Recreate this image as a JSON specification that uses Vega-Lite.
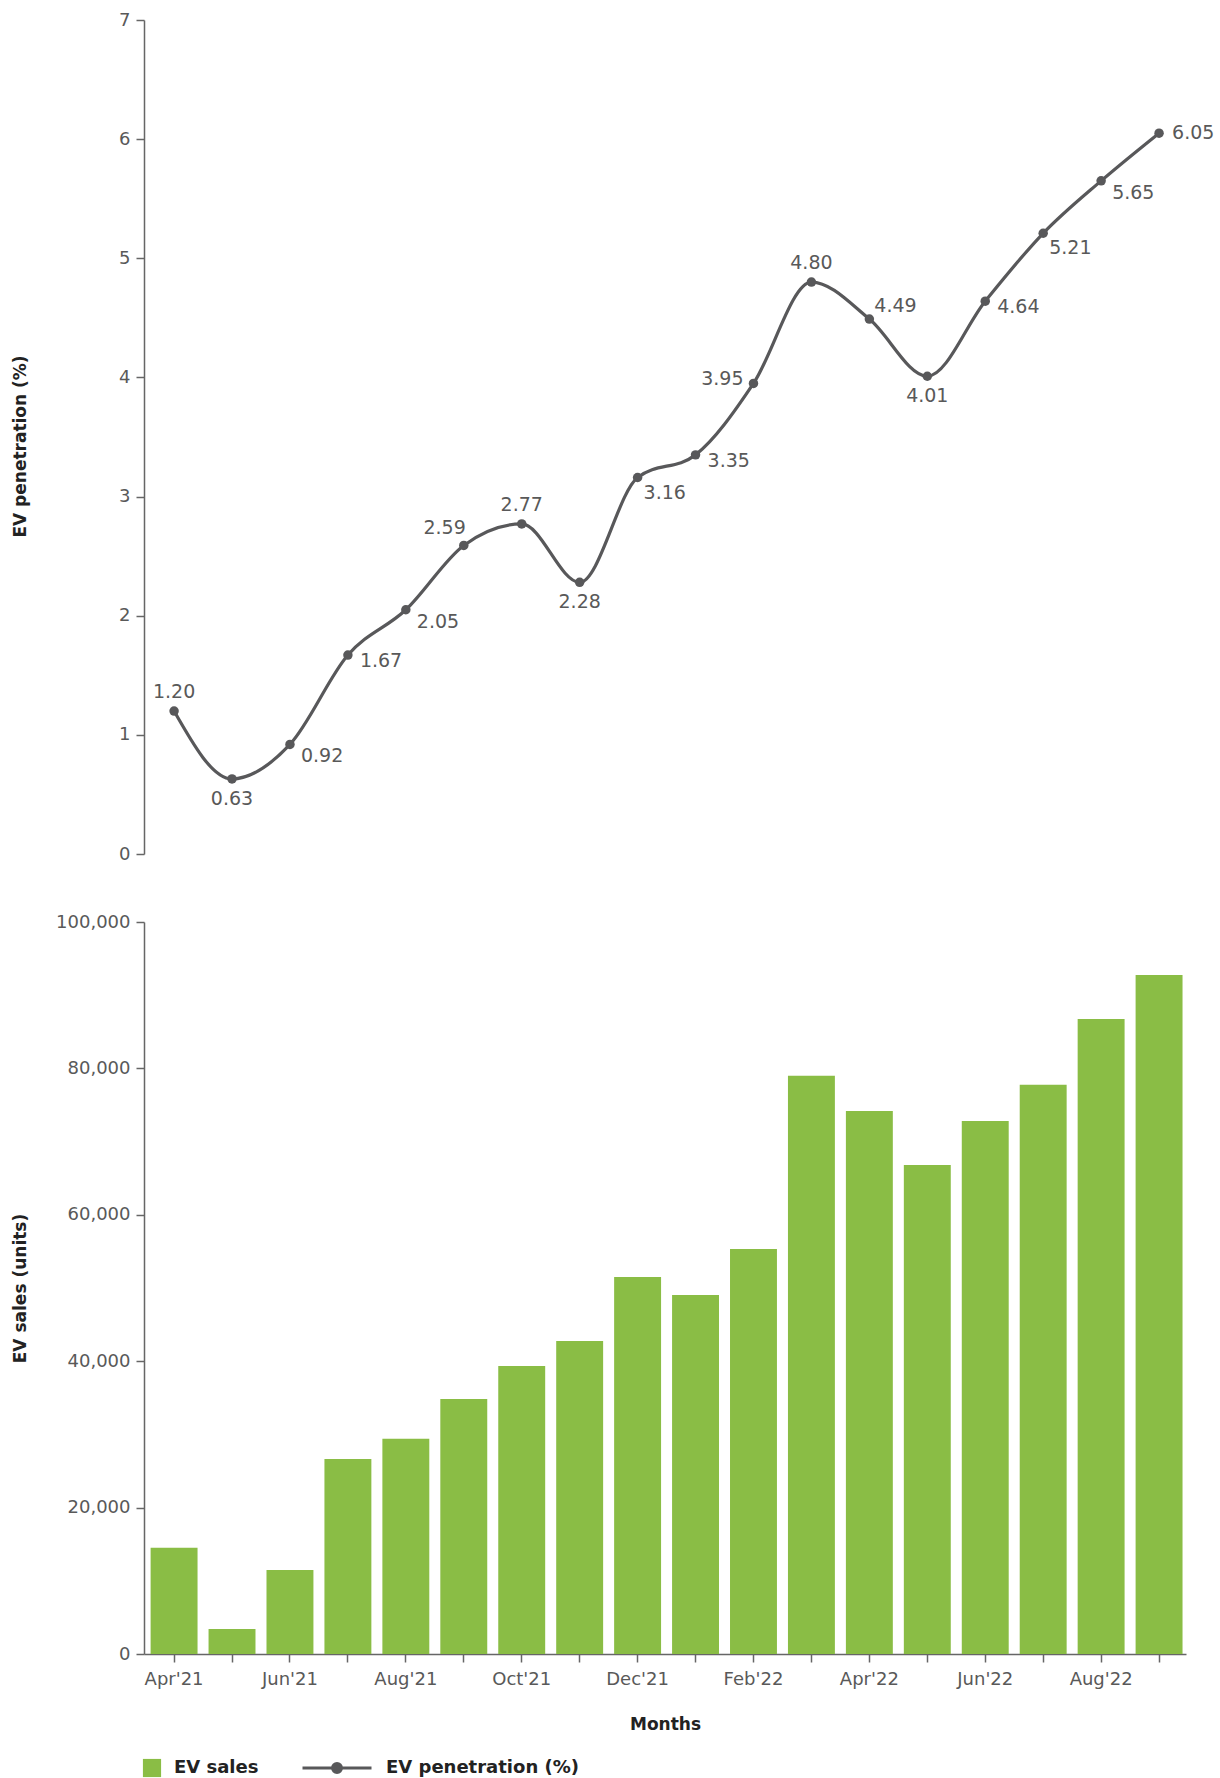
{
  "$schema": "https://vega.github.io/schema/vega-lite/v6.json",
  "padding": {"left": 11, "top": 11, "right": 0, "bottom": 0},
  "background": "white",
  "spacing": 50,
  "data": {"values": [
    {"month": "Apr'21", "sales": 14530, "pen": 1.20},
    {"month": "May'21", "sales": 3430, "pen": 0.63},
    {"month": "Jun'21", "sales": 11490, "pen": 0.92},
    {"month": "Jul'21", "sales": 26650, "pen": 1.67},
    {"month": "Aug'21", "sales": 29390, "pen": 2.05},
    {"month": "Sep'21", "sales": 34850, "pen": 2.59},
    {"month": "Oct'21", "sales": 39360, "pen": 2.77},
    {"month": "Nov'21", "sales": 42770, "pen": 2.28},
    {"month": "Dec'21", "sales": 51500, "pen": 3.16},
    {"month": "Jan'22", "sales": 49060, "pen": 3.35},
    {"month": "Feb'22", "sales": 55340, "pen": 3.95},
    {"month": "Mar'22", "sales": 78980, "pen": 4.80},
    {"month": "Apr'22", "sales": 74190, "pen": 4.49},
    {"month": "May'22", "sales": 66820, "pen": 4.01},
    {"month": "Jun'22", "sales": 72830, "pen": 4.64},
    {"month": "Jul'22", "sales": 77750, "pen": 5.21},
    {"month": "Aug'22", "sales": 86760, "pen": 5.65},
    {"month": "Sep'22", "sales": 92770, "pen": 6.05}
  ]},
  "vconcat": [
    {
      "width": 1042,
      "height": 834,
      "encoding": {
        "x": {"field": "month", "type": "ordinal", "sort": null, "scale": {"type": "band", "paddingInner": 0.19, "paddingOuter": 0.087, "align": 0.656}, "axis": null},
        "y": {"field": "pen", "type": "quantitative", "scale": {"domain": [0, 7]}, "axis": {"values": [0, 1, 2, 3, 4, 5, 6, 7], "title": "EV penetration (%)", "titleX": -115, "titleY": 426}}
      },
      "layer": [
        {"mark": {"type": "line", "interpolate": "monotone", "strokeWidth": 3.2},
         "encoding": {"stroke": {"datum": "EV penetration (%)", "type": "nominal", "scale": {"range": ["#58585a"]},
           "legend": {"orient": "none", "legendX": 157, "legendY": 1712, "title": null, "symbolType": "M-1,0H1M0.13,0A0.13,0.13 0 1 1 -0.13,0A0.13,0.13 0 1 1 0.13,0Z", "symbolSize": 4761, "symbolStrokeWidth": 3, "symbolFillColor": "#58585a", "labelFontSize": 18, "labelFontWeight": "bold", "labelColor": "#222", "labelOffset": 13, "labelLimit": 400}}}},
        {"mark": {"type": "point", "filled": true, "size": 90, "color": "#58585a", "opacity": 1}},
        {"transform": [{"filter": {"field": "month", "oneOf": ["Apr'21", "Oct'21", "Mar'22"]}}],
         "mark": {"type": "text", "align": "center", "baseline": "middle", "dy": -19, "fontSize": 19, "color": "#595959"},
         "encoding": {"text": {"field": "pen", "type": "quantitative", "format": ".2f"}}},
        {"transform": [{"filter": {"field": "month", "oneOf": ["May'21", "Nov'21", "May'22"]}}],
         "mark": {"type": "text", "align": "center", "baseline": "middle", "dy": 20, "fontSize": 19, "color": "#595959"},
         "encoding": {"text": {"field": "pen", "type": "quantitative", "format": ".2f"}}},
        {"transform": [{"filter": {"field": "month", "oneOf": ["Jun'21", "Aug'21", "Aug'22"]}}],
         "mark": {"type": "text", "align": "left", "baseline": "middle", "dx": 11, "dy": 12, "fontSize": 19, "color": "#595959"},
         "encoding": {"text": {"field": "pen", "type": "quantitative", "format": ".2f"}}},
        {"transform": [{"filter": {"field": "month", "oneOf": ["Dec'21", "Jul'22"]}}],
         "mark": {"type": "text", "align": "left", "baseline": "middle", "dx": 6, "dy": 15, "fontSize": 19, "color": "#595959"},
         "encoding": {"text": {"field": "pen", "type": "quantitative", "format": ".2f"}}},
        {"transform": [{"filter": {"field": "month", "oneOf": ["Jul'21", "Jan'22", "Jun'22"]}}],
         "mark": {"type": "text", "align": "left", "baseline": "middle", "dx": 12, "dy": 6, "fontSize": 19, "color": "#595959"},
         "encoding": {"text": {"field": "pen", "type": "quantitative", "format": ".2f"}}},
        {"transform": [{"filter": {"field": "month", "oneOf": ["Sep'22"]}}],
         "mark": {"type": "text", "align": "left", "baseline": "middle", "dx": 13, "dy": 0, "fontSize": 19, "color": "#595959"},
         "encoding": {"text": {"field": "pen", "type": "quantitative", "format": ".2f"}}},
        {"transform": [{"filter": {"field": "month", "oneOf": ["Feb'22"]}}],
         "mark": {"type": "text", "align": "right", "baseline": "middle", "dx": -10, "dy": -4, "fontSize": 19, "color": "#595959"},
         "encoding": {"text": {"field": "pen", "type": "quantitative", "format": ".2f"}}},
        {"transform": [{"filter": {"field": "month", "oneOf": ["Sep'21"]}}],
         "mark": {"type": "text", "align": "right", "baseline": "middle", "dx": 2, "dy": -17, "fontSize": 19, "color": "#595959"},
         "encoding": {"text": {"field": "pen", "type": "quantitative", "format": ".2f"}}},
        {"transform": [{"filter": {"field": "month", "oneOf": ["Apr'22"]}}],
         "mark": {"type": "text", "align": "left", "baseline": "middle", "dx": 5, "dy": -13, "fontSize": 19, "color": "#595959"},
         "encoding": {"text": {"field": "pen", "type": "quantitative", "format": ".2f"}}}
      ]
    },
    {
      "width": 1042,
      "height": 732,
      "mark": {"type": "bar"},
      "encoding": {
        "x": {"field": "month", "type": "ordinal", "sort": null, "scale": {"type": "band", "paddingInner": 0.19, "paddingOuter": 0.087, "align": 0.656},
          "axis": {"title": "Months", "labelAngle": 0, "labelPadding": 8, "titlePadding": 28, "labelExpr": "test(/^(May|Jul|Sep|Nov|Jan|Mar)/, datum.value) ? '' : datum.value"}},
        "y": {"field": "sales", "type": "quantitative", "scale": {"domain": [0, 100000]}, "axis": {"values": [0, 20000, 40000, 60000, 80000, 100000], "format": ",d", "title": "EV sales (units)", "titleX": -115}},
        "fill": {"datum": "EV sales", "type": "nominal", "scale": {"range": ["#8abd45"]},
          "legend": {"orient": "none", "legendX": -2, "legendY": 1738, "title": null, "symbolType": "square", "symbolSize": 330, "labelFontSize": 18, "labelFontWeight": "bold", "labelColor": "#222", "labelOffset": 12, "labelLimit": 400}}
      }
    }
  ],
  "config": {
    "font": "DejaVu Sans",
    "view": {"stroke": null},
    "axis": {"labelFont": "DejaVu Sans", "labelFontSize": 18, "labelColor": "#595959", "domainColor": "#666666", "tickColor": "#666666", "tickSize": 8, "domainWidth": 1.5, "tickWidth": 1.5, "labelPadding": 6, "titleFont": "DejaVu Sans", "titleFontSize": 17, "titleFontWeight": "bold", "titleColor": "#222222", "grid": false},
    "legend": {"labelFont": "DejaVu Sans"}
  }
}
